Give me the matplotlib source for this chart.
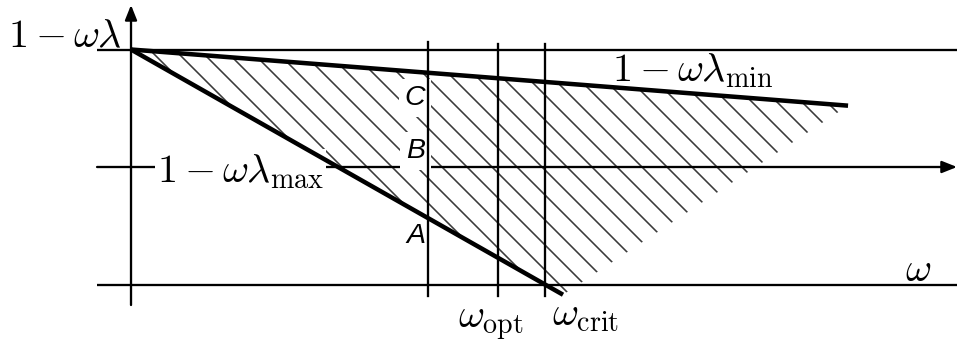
import matplotlib
matplotlib.use("Agg")
import matplotlib.pyplot as plt
from matplotlib.patches import Polygon

DPI = 150
PX = 72.0 / DPI            # points per pixel

plt.rcParams['mathtext.fontset'] = 'cm'
plt.rcParams['hatch.linewidth'] = 1.6 * PX

# Eigenvalue bounds and relaxation parameters
lam_max = 1.0
lam_min = 0.138
omega_B = 1.435            # parameter at which points A, B, C are marked
omega_opt = 1.773
omega_crit = 2.0 / lam_max
omega_min_end = 3.464      # extent of the 1 - omega*lam_min line
omega_max_end = 2.087      # extent of the 1 - omega*lam_max line

point_labels = ['C', 'B', 'A']

fig = plt.figure(figsize=(957 / DPI, 347 / DPI), dpi=DPI)
ax = fig.add_axes([0, 0, 1, 1])
ax.set_xlim(-0.6329, 3.9903)
ax.set_ylim(-1.5319, 1.4213)
ax.axis('off')

thin = 2.3 * PX
thick = 4.5 * PX

def f_min(w):
    return 1 - w * lam_min

def f_max(w):
    return 1 - w * lam_max

# Hatched region between the two lines
tri = Polygon([(0, 1), (omega_min_end, f_min(omega_min_end)),
               (omega_max_end, f_max(omega_max_end))],
              closed=True, facecolor='none', edgecolor='#3a3a3a',
              linewidth=0, hatch='\\\\', zorder=1)
ax.add_patch(tri)

# Reference horizontal lines at 1 and -1
x_left = -0.164
x_right = 3.9903
for yv in (1, -1):
    ax.plot([x_left, x_right], [yv, yv], color='k', lw=thin, zorder=2,
            solid_capstyle='butt')

arrow = dict(arrowstyle='-|>,head_length=0.75,head_width=0.3',
             color='k', lw=thin, shrinkA=0, shrinkB=0,
             mutation_scale=16.7 * PX)
# Horizontal axis with arrow
ax.annotate('', xy=(x_right, 0), xytext=(x_left, 0), arrowprops=arrow,
            zorder=2)
# Vertical axis with arrow
ax.annotate('', xy=(0, 1.379), xytext=(0, -1.1745), arrowprops=arrow,
            zorder=2)

# Vertical markers
ax.plot([omega_B, omega_B], [1.064, -1.098], color='k', lw=thin, zorder=5)
ax.plot([omega_opt, omega_opt], [1.047, -1.098], color='k', lw=thin, zorder=5)
ax.plot([omega_crit, omega_crit], [1.047, -1.098], color='k', lw=thin, zorder=5)

# The two bounding lines
ax.plot([0, omega_min_end], [f_min(0), f_min(omega_min_end)], color='k',
        lw=thick, zorder=4, solid_capstyle='butt')
ax.plot([0, omega_max_end], [f_max(0), f_max(omega_max_end)], color='k',
        lw=thick, zorder=4, solid_capstyle='butt')

fs = 40 * PX
box = dict(boxstyle='square,pad=0.05', facecolor='white', edgecolor='none')

ax.text(-0.0435, 1.021, r'$1-\omega\lambda$', fontsize=fs, ha='right',
        va='baseline', zorder=6)
ax.text(0.1256, -0.128, r'$1-\omega\lambda_{\mathrm{max}}$', fontsize=fs,
        ha='left', va='baseline', zorder=3, bbox=box)
ax.text(2.324, 0.732, r'$1-\omega\lambda_{\mathrm{min}}$', fontsize=fs,
        ha='left', va='baseline', zorder=6)
ax.text(1.580, -1.370, r'$\omega_{\mathrm{opt}}$', fontsize=fs,
        ha='left', va='baseline', zorder=6)
ax.text(2.034, -1.345, r'$\omega_{\mathrm{crit}}$', fontsize=fs,
        ha='left', va='baseline', zorder=6)
ax.text(3.739, -0.970, r'$\omega$', fontsize=fs, ha='left',
        va='baseline', zorder=6)

# Point labels on the omega_B marker
label_x = 1.420
label_y = [0.528, 0.0766, -0.647]
lbox = dict(boxstyle='square,pad=0.2', facecolor='white', edgecolor='none')
for lab, yv in zip(point_labels, label_y):
    ax.text(label_x, yv, lab, fontsize=28.5 * PX, ha='right', va='baseline',
            family='Liberation Sans', style='italic', zorder=3, bbox=lbox)

fig.savefig('out.png', dpi=DPI)
